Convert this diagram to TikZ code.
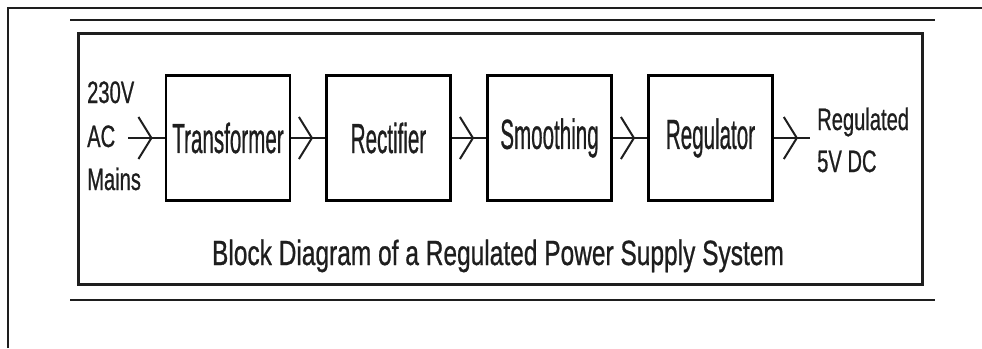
\documentclass[tikz,border=0pt]{standalone}
\usepackage{fontspec}
\setmainfont[FakeBold=0.9]{Liberation Sans}
\usepackage{graphicx}
\usetikzlibrary{arrows.meta,decorations.markings}
\definecolor{ink}{HTML}{1E1E1E}
\newcommand{\blocktxt}[1]{\scalebox{0.49}[1]{\fontsize{42}{42}\selectfont #1}}
\newcommand{\sidetxt}[1]{\scalebox{0.65}[1]{\fontsize{31}{31}\selectfont #1}}
\newcommand{\titletxt}[1]{\scalebox{0.70}[1]{\fontsize{35}{35}\selectfont #1}}
\begin{document}
\begin{tikzpicture}[x=1pt,y=-1pt,
  blockbox/.style={draw=black,line width=2.8pt,minimum width=124pt,minimum height=125pt,inner sep=0pt,text=ink},
  labeltxt/.style={inner sep=0pt,text=ink},
  flow/.style={line width=2.4pt,draw=ink,
    decoration={markings,mark=at position -12pt with {\arrow[line width=2pt]{Straight Barb[length=13pt,width=42pt]}}},
    postaction=decorate}]
\useasboundingbox (0,0) rectangle (982,348);
% frames
\draw[line width=2pt,ink] (8,348) -- (8,8) -- (982,8);
\draw[line width=2pt,ink] (70,20) -- (935,20);
\draw[line width=2pt,ink] (70,300) -- (935,300);
\draw[line width=3pt,ink] (78,33) rectangle (922,284);
% blocks
\node[blockbox] (tr) at (228,138) {\blocktxt{Transformer}};
\node[blockbox] (re) at (388.5,138) {\blocktxt{Rectifier}};
\node[blockbox] (sm) at (549.5,138) {\blocktxt{Smoothing}};
\node[blockbox] (rg) at (710.5,138) {\blocktxt{Regulator}};
% side labels
\node[labeltxt,anchor=base west] (l1) at (87,103) {\sidetxt{230V}};
\node[labeltxt,anchor=base west] (l2) at (87,147) {\sidetxt{AC}};
\node[labeltxt,anchor=base west] (l3) at (87,190) {\sidetxt{Mains}};
\node[labeltxt,anchor=base west] (r1) at (817,130) {\sidetxt{Regulated}};
\node[labeltxt,anchor=base west] (r2) at (817,172) {\sidetxt{5V DC}};
% title
\node[labeltxt,anchor=base] (title) at (498,265) {\titletxt{Block Diagram of a Regulated Power Supply System}};
% connectors
\coordinate (in) at (128,138);
\coordinate (out) at (810,138);
\draw[flow] (in) -- (tr.west);
\draw[flow] (tr.east) -- (re.west);
\draw[flow] (re.east) -- (sm.west);
\draw[flow] (sm.east) -- (rg.west);
\draw[flow] (rg.east) -- (out);
\end{tikzpicture}
\end{document}
